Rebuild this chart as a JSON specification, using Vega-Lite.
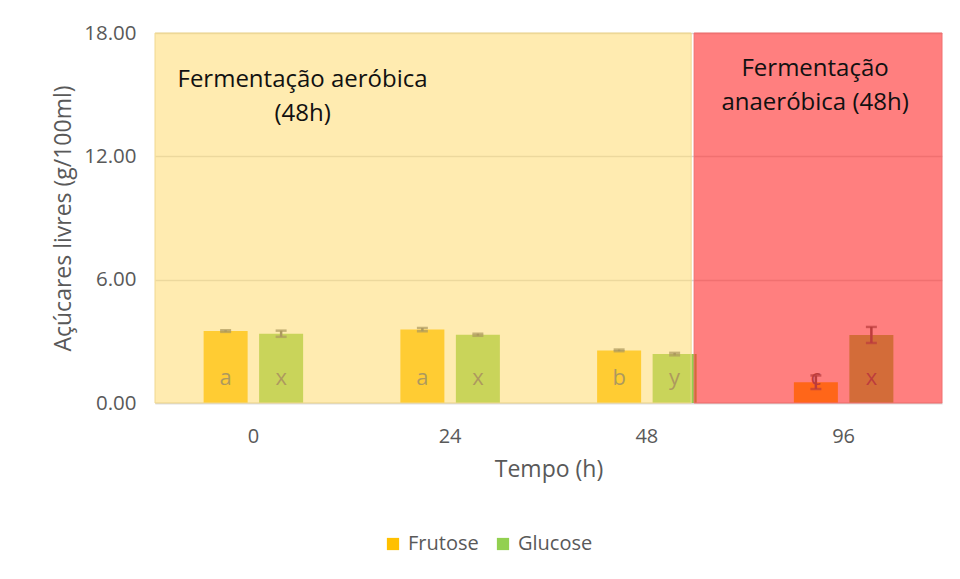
{
  "$schema": "https://vega.github.io/schema/vega-lite/v6.json",
  "width": 787,
  "height": 370,
  "autosize": {"type": "none"},
  "padding": {"left": 155, "top": 33, "right": 18, "bottom": 176},
  "background": "white",
  "config": {
    "font": "Open Sans",
    "view": {"stroke": null},
    "axis": {"labelFont": "Open Sans", "titleFont": "Open Sans", "labelColor": "#595959", "titleColor": "#595959", "titleFontWeight": "normal"},
    "legend": {"labelFont": "Open Sans"}
  },
  "datasets": {
    "acucares": [
      {"tempo": "0", "acucar": "Frutose", "valor": 3.50, "erro": 0.04, "letra": "a"},
      {"tempo": "0", "acucar": "Glucose", "valor": 3.37, "erro": 0.15, "letra": "x"},
      {"tempo": "24", "acucar": "Frutose", "valor": 3.57, "erro": 0.08, "letra": "a"},
      {"tempo": "24", "acucar": "Glucose", "valor": 3.32, "erro": 0.05, "letra": "x"},
      {"tempo": "48", "acucar": "Frutose", "valor": 2.56, "erro": 0.04, "letra": "b"},
      {"tempo": "48", "acucar": "Glucose", "valor": 2.38, "erro": 0.06, "letra": "y"},
      {"tempo": "96", "acucar": "Frutose", "valor": 1.01, "erro": 0.33, "letra": "c"},
      {"tempo": "96", "acucar": "Glucose", "valor": 3.31, "erro": 0.39, "letra": "x"}
    ],
    "regioes": [
      {"regiao": "aerobica", "inicio": 0, "fim": 2.725},
      {"regiao": "anaerobica", "inicio": 2.74, "fim": 4}
    ],
    "textos": [
      {"regiao": "aerobica", "texto": "Fermentação aeróbica\n(48h)", "xc": 0.75, "yc": 15.72},
      {"regiao": "anaerobica", "texto": "Fermentação\nanaeróbica (48h)", "xc": 3.355, "yc": 16.24}
    ]
  },
  "layer": [
    {
      "data": {"name": "acucares"},
      "transform": [
        {"calculate": "datum.valor - datum.erro", "as": "lo"},
        {"calculate": "datum.valor + datum.erro", "as": "hi"}
      ],
      "encoding": {
        "x": {
          "field": "tempo", "type": "nominal", "sort": ["0", "24", "48", "96"],
          "scale": {"paddingInner": 0, "paddingOuter": 0},
          "axis": {
            "title": "Tempo (h)", "labelAngle": 0, "labelFontSize": 20, "titleFontSize": 23,
            "ticks": false, "labelPadding": 23, "titlePadding": 12,
            "domain": true, "domainColor": "#D9D9D9", "domainWidth": 1.5, "grid": false
          }
        },
        "xOffset": {
          "field": "acucar", "type": "nominal",
          "scale": {"paddingInner": 0.207, "paddingOuter": 0.876}
        }
      },
      "layer": [
        {
          "mark": {"type": "bar"},
          "encoding": {
            "y": {
              "field": "valor", "type": "quantitative",
              "scale": {"domain": [0, 18], "nice": false},
              "axis": {
                "title": "Açúcares livres (g/100ml)", "values": [0, 6, 12, 18], "format": ".2f",
                "labelFontSize": 20.5, "titleFontSize": 23, "ticks": false, "domain": false,
                "labelPadding": 19, "titlePadding": 8,
                "grid": true, "gridColor": "#D9D9D9", "gridWidth": 1.5
              }
            },
            "color": {
              "field": "acucar", "type": "nominal",
              "scale": {"domain": ["Frutose", "Glucose"], "range": ["#FFC000", "#92D050"]},
              "legend": {
                "title": null, "orient": "none", "direction": "horizontal",
                "legendX": 228, "legendY": 501,
                "symbolType": "square", "symbolSize": 150, "symbolStrokeWidth": 0,
                "labelFontSize": 20, "labelColor": "#595959", "columnPadding": 14, "labelOffset": 5
              }
            }
          }
        },
        {
          "mark": {"type": "rule", "color": "#595959", "strokeWidth": 2.5},
          "encoding": {
            "y": {"field": "lo", "type": "quantitative"},
            "y2": {"field": "hi"}
          }
        },
        {
          "mark": {"type": "tick", "color": "#595959", "size": 11, "thickness": 2.5},
          "encoding": {"y": {"field": "lo", "type": "quantitative"}}
        },
        {
          "mark": {"type": "tick", "color": "#595959", "size": 11, "thickness": 2.5},
          "encoding": {"y": {"field": "hi", "type": "quantitative"}}
        },
        {
          "mark": {"type": "text", "color": "#595959", "fontSize": 22, "baseline": "middle"},
          "encoding": {
            "y": {"datum": 1.23, "type": "quantitative"},
            "text": {"field": "letra"}
          }
        }
      ]
    },
    {
      "encoding": {
        "x": {"type": "quantitative", "scale": {"domain": [0, 4], "nice": false, "zero": false}, "axis": null}
      },
      "layer": [
        {
          "data": {"name": "regioes"},
          "transform": [{"filter": "datum.regiao == 'aerobica'"}],
          "mark": {"type": "rect", "fill": "#FFD864", "fillOpacity": 0.51, "stroke": "#F0D890", "strokeWidth": 1},
          "encoding": {
            "x": {"field": "inicio", "type": "quantitative"},
            "x2": {"field": "fim"},
            "y": {"datum": 0, "type": "quantitative"},
            "y2": {"datum": 18}
          }
        },
        {
          "data": {"name": "regioes"},
          "transform": [{"filter": "datum.regiao == 'anaerobica'"}],
          "mark": {"type": "rect", "fill": "#FF2A2A", "fillOpacity": 0.6, "stroke": "#F07070", "strokeWidth": 1},
          "encoding": {
            "x": {"field": "inicio", "type": "quantitative"},
            "x2": {"field": "fim"},
            "y": {"datum": 0, "type": "quantitative"},
            "y2": {"datum": 18}
          }
        },
        {
          "data": {"name": "textos"},
          "mark": {"type": "text", "color": "#111111", "fontSize": 24, "lineBreak": "\n", "lineHeight": 34, "align": "center", "baseline": "middle"},
          "encoding": {
            "x": {"field": "xc", "type": "quantitative"},
            "y": {"field": "yc", "type": "quantitative"},
            "text": {"field": "texto"}
          }
        }
      ]
    }
  ],
  "resolve": {"scale": {"x": "independent"}}
}
